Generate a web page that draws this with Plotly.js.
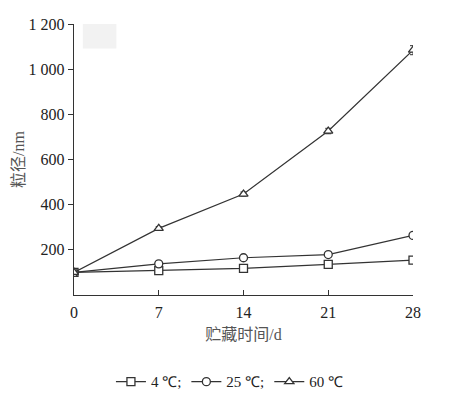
<!DOCTYPE html>
<html><head><meta charset="utf-8">
<script src="https://cdn.plot.ly/plotly-3.0.1.min.js"></script>
<style>body{margin:0;background:#fff}#c{width:463px;height:408px}</style>
</head><body><div id="c"></div>
<script>
const days = [0, 7, 14, 21, 28];
const s4 = [100, 108, 118, 136, 154];
const s25 = [100, 138, 165, 179, 264];
const s60 = [100, 295, 447, 726, 1084];
const e4 = [6, 5, 6, 7, 8];
const e25 = [6, 8, 7, 9, 8];
const e60 = [6, 8, 9, 12, 20];
const names = ['4 ℃;', '25 ℃;', '60 ℃'];
const yTicks = [200, 400, 600, 800, 1000, 1200];
const yTickText = ['200', '400', '600', '800', '1 000', '1 200'];
const xTicks = [0, 7, 14, 21, 28];

const col = '#333';
function tr(y, e, name, sym) {
  return {x: days, y: y, name: name, type: 'scatter', mode: 'lines+markers',
    line: {color: col, width: 1.2},
    marker: {symbol: sym, size: 8, color: '#fff', line: {color: col, width: 1.3}},
    error_y: {type: 'data', array: e, visible: true, color: col, thickness: 1, width: 3}};
}
const data = [tr(s4, e4, names[0], 'square'), tr(s25, e25, names[1], 'circle'), tr(s60, e60, names[2], 'triangle-up')];
const font = {family: 'Liberation Serif, Times New Roman, serif', size: 16, color: '#222'};
const tfont = {family: 'Liberation Serif, Noto Sans CJK SC, serif', size: 16, color: '#555'};
const layout = {
  width: 463, height: 408,
  margin: {l: 74, r: 50, t: 24, b: 113, autoexpand: false},
  paper_bgcolor: '#fff', plot_bgcolor: '#fff',
  font: font,
  showlegend: true,
  legend: {orientation: 'h', x: 0.46, xanchor: 'center', yref: 'container', y: 0.064, yanchor: 'middle', font: {family: font.family, size: 15, color: '#222'}, tracegroupgap: 0},
  xaxis: {automargin: false, range: [0, 28], tickvals: xTicks, ticks: 'inside', ticklen: 5, tickcolor: col, ticklabelstandoff: 3, showline: true, linecolor: col, linewidth: 1.2, showgrid: false, zeroline: false,
    title: {text: '贮藏时间/d', font: tfont, standoff: 8}},
  yaxis: {automargin: false, range: [0, 1200], tickvals: yTicks, ticktext: yTickText, ticks: 'outside', ticklen: 5, tickcolor: col, showline: true, linecolor: col, linewidth: 1.2, showgrid: false, zeroline: false,
    title: {text: '粒径/nm', font: tfont, standoff: 0}},
  shapes: [{type: 'rect', xref: 'paper', yref: 'paper', x0: 0.026, x1: 0.125, y0: 0.91, y1: 1.0, fillcolor: '#f2f2f2', line: {width: 0}, layer: 'below'}]
};
Plotly.newPlot('c', data, layout, {displayModeBar: false, staticPlot: true});
</script></body></html>
